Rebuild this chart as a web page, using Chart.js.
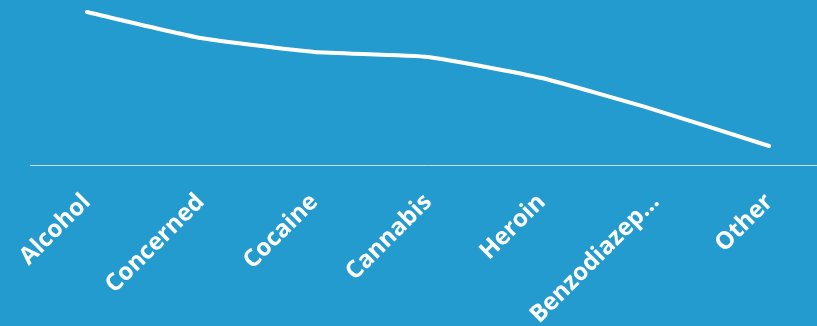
<!DOCTYPE html>
<html>
<head>
<meta charset="utf-8">
<script src="https://cdn.jsdelivr.net/npm/chart.js@4/dist/chart.umd.min.js"></script>
<style>
  html, body { margin: 0; padding: 0; background: #239bce; overflow: hidden; }
  #wrap { position: relative; width: 826px; height: 330px; }
</style>
</head>
<body>
<div id="wrap"><canvas id="substanceChart"></canvas></div>
<script>
// 物质类别与数值
const categories = ['Alcohol', 'Concerned', 'Cocaine', 'Cannabis', 'Heroin', 'Benzodiazepines', 'Other'];
const values = [92.7, 77, 68.5, 65.5, 52.7, 33.3, 11.5];
const yRange = [0, 100];

// 过长的标签截断显示
function shortLabel(text) {
    return text.length > 12 ? text.slice(0, 11) + '…' : text;
}

const ctx = document.getElementById('substanceChart').getContext('2d');
const substanceChart = new Chart(ctx, {
    type: 'line',
    data: {
        labels: categories,
        datasets: [{
            label: 'Substance',
            data: values,
            borderColor: '#ffffff',
            borderWidth: 4,
            borderCapStyle: 'round',
            borderJoinStyle: 'round',
            tension: 0.15,
            pointRadius: 0,
            fill: false
        }]
    },
    options: {
        responsive: true,
        maintainAspectRatio: false,
        animation: false,
        layout: {
            padding: { top: 0, left: 30, right: 0, bottom: 0 }
        },
        plugins: {
            legend: { display: false },
            tooltip: { enabled: false }
        },
        scales: {
            x: {
                offset: true,
                grid: { display: false },
                border: { display: true, color: 'rgba(255, 255, 255, 0.7)', width: 1 },
                ticks: {
                    color: '#ffffff',
                    autoSkip: false,
                    minRotation: 45,
                    maxRotation: 45,
                    padding: 15,
                    font: { family: "'Open Sans', sans-serif", size: 24, weight: 'bold' },
                    callback: function(value) {
                        return shortLabel(this.getLabelForValue(value));
                    }
                }
            },
            y: {
                display: false,
                min: yRange[0],
                max: yRange[1]
            }
        }
    }
});
</script>
</body>
</html>
